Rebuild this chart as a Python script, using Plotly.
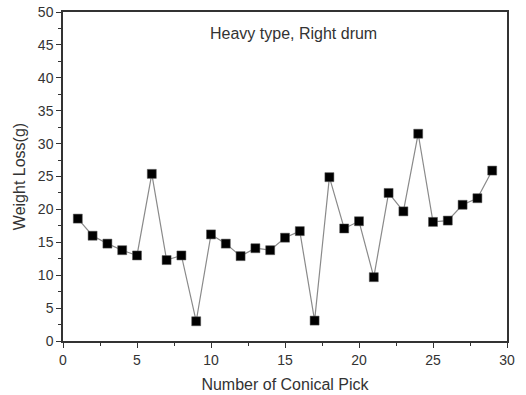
import plotly.graph_objects as go

picks = list(range(1, 30))
weight_loss = [18.6, 16.0, 14.8, 13.8, 13.0, 25.4, 12.3, 13.0, 3.0, 16.2,
               14.8, 12.9, 14.1, 13.8, 15.7, 16.7, 3.1, 24.9, 17.1, 18.2,
               9.7, 22.5, 19.7, 31.5, 18.1, 18.3, 20.7, 21.7, 25.9]

FONT = "Liberation Sans, Arial, sans-serif"

fig = go.Figure()
fig.add_trace(go.Scatter(
    x=picks, y=weight_loss, mode="lines+markers",
    line=dict(color="#8a8a8a", width=1.2),
    marker=dict(symbol="square", size=9, color="black",
                line=dict(color="#555555", width=0.5)),
    showlegend=False,
))

axis_common = dict(
    showgrid=False, zeroline=False, showline=True, linecolor="#333333",
    linewidth=1.5, mirror=True, ticks="outside", ticklen=5, tickwidth=1.2,
    tickcolor="#333333", automargin=False,
    tickfont=dict(family=FONT, size=14, color="#333333"),
    minor=dict(ticks="outside", ticklen=3, tickwidth=1, tickcolor="#333333", dtick=2.5),
)

fig.update_layout(
    width=526, height=395,
    margin=dict(l=63, r=19, t=12, b=54, autoexpand=False),
    plot_bgcolor="white", paper_bgcolor="white",
    xaxis=dict(range=[0, 30], dtick=5, tick0=0,
               title=dict(text="Number of Conical Pick", standoff=12,
                          font=dict(family=FONT, size=16, color="#333333")),
               **axis_common),
    yaxis=dict(range=[0, 50], dtick=5, tick0=0,
               title=dict(text="Weight Loss(g)", standoff=8,
                          font=dict(family=FONT, size=16, color="#333333")),
               **axis_common),
    annotations=[dict(text="Heavy type, Right drum", x=0.52, y=46.8, xref="paper", yref="y",
                      showarrow=False,
                      font=dict(family=FONT, size=16, color="#333333"))],
)

fig.write_html("out.html")
